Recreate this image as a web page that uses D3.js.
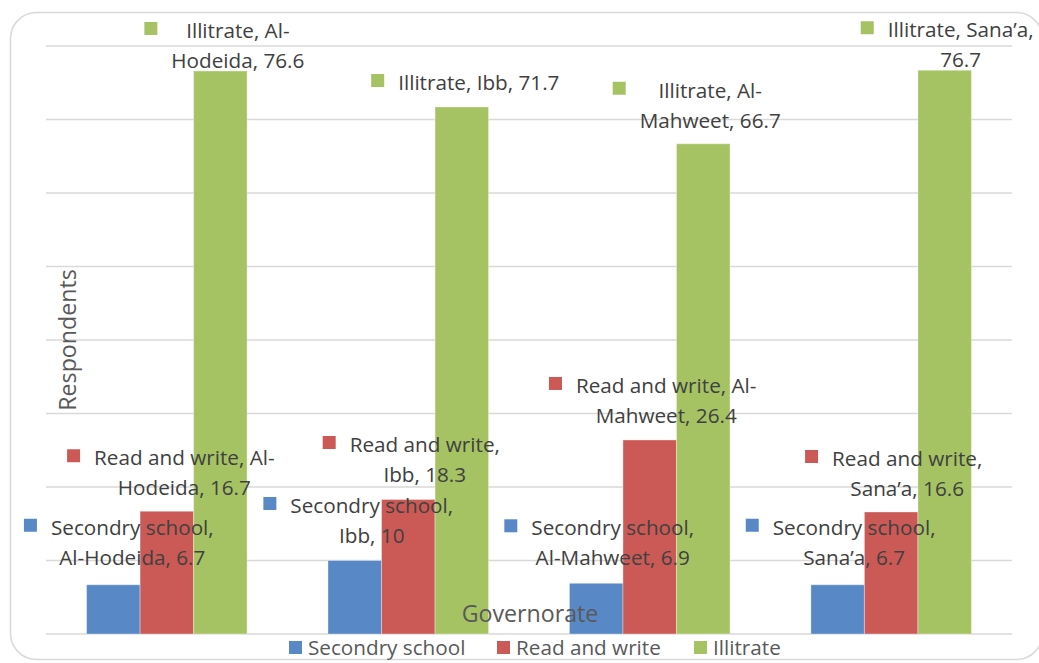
<!DOCTYPE html>
<html>
<meta charset="utf-8">
<style>
  body {
    margin: 0;
    background: #fff;
  }
  text {
    font-family: 'Open Sans', Lato, sans-serif;
  }
  .grid line {
    stroke: #d9d9d9;
    stroke-width: 1.5;
  }
  .lbl {
    fill: #404040;
    font-size: 20.7px;
  }
  .axis-title {
    fill: #595959;
    font-size: 23.2px;
  }
  .legend text {
    fill: #595959;
    font-size: 20.7px;
  }
</style>
<body>
<script src="https://cdn.jsdelivr.net/npm/d3@7"></script>
<script>

// data
var governorates = ['Al-Hodeida', 'Ibb', 'Al-Mahweet', 'Sana\u2019a'];
var seriesNames = ['Secondry school', 'Read and write', 'Illitrate'];
var secondrySchool = [6.7, 10, 6.9, 6.7];
var readAndWrite = [16.7, 18.3, 26.4, 16.6];
var illitrate = [76.6, 71.7, 66.7, 76.7];
var yTicks = [0, 10, 20, 30, 40, 50, 60, 70, 80];

var colors = ['#5889c6', '#cb5a56', '#a6c364'];

// label layout (how many words go on the first line, offset from bar top)
var labelBreaks = [[2, 2, 2, 2], [4, 3, 4, 3], [2, 99, 2, 2]];
var labelOffsets = [
  [[19, -50], [17, -47.5], [16.5, -48], [16.5, -50]],
  [[17.5, -46], [16.5, -47.5], [16.5, -47], [16, -46]],
  [[17.5, -33], [17, -17], [7, -46], [16, -33]]
];

var values = [secondrySchool, readAndWrite, illitrate];

var width = 1039, height = 663;
var margin = {top: 46, right: 27, bottom: 29, left: 46};

var svg = d3.select('body').append('svg')
  .attr('width', width)
  .attr('height', height);

// frame
svg.append('rect')
  .attr('x', 10.5).attr('y', 12.5)
  .attr('width', 1032).attr('height', 647)
  .attr('rx', 26)
  .attr('fill', 'none')
  .attr('stroke', '#d9d9d9')
  .attr('stroke-width', 1.5);

var x0 = d3.scaleBand()
  .domain(governorates)
  .range([margin.left, width - margin.right])
  .paddingInner(0.335)
  .paddingOuter(0.168);

var x1 = d3.scaleBand()
  .domain(seriesNames)
  .range([0, x0.bandwidth()]);

var y = d3.scaleLinear()
  .domain([0, 80])
  .range([height - margin.bottom, margin.top]);

svg.append('g')
  .attr('class', 'grid')
  .selectAll('line')
  .data(yTicks)
  .enter()
  .append('line')
  .attr('x1', margin.left)
  .attr('x2', width - margin.right)
  .attr('y1', function(d) { return y(d); })
  .attr('y2', function(d) { return y(d); });

// bars
var bars = [];
seriesNames.forEach(function(s, si) {
  governorates.forEach(function(g, gi) {
    bars.push({s: s, si: si, g: g, gi: gi, v: values[si][gi]});
  });
});

svg.append('g')
  .selectAll('rect')
  .data(bars)
  .enter()
  .append('rect')
  .attr('x', function(d) { return x0(d.g) + x1(d.s); })
  .attr('y', function(d) { return y(d.v); })
  .attr('width', x1.bandwidth())
  .attr('height', function(d) { return y(0) - y(d.v); })
  .attr('fill', function(d) { return colors[d.si]; })
  .attr('stroke', 'rgba(255,255,255,0.35)')
  .attr('stroke-width', 1);

// axis titles
svg.append('text')
  .attr('class', 'axis-title')
  .attr('transform', 'translate(76,340) rotate(-90)')
  .attr('text-anchor', 'middle')
  .text('Respondents');

svg.append('text')
  .attr('class', 'axis-title')
  .attr('x', 530)
  .attr('y', 622)
  .attr('text-anchor', 'middle')
  .text('Governorate');

// data labels with legend key
var lineH = 30;
bars.forEach(function(d) {
  var full = d.s + ', ' + d.g + ', ' + d.v;
  var tokens = full.split(/(?<=\s)|(?<=-)(?=[A-Z])/);
  var n = labelBreaks[d.si][d.gi];
  var lines = [tokens.slice(0, n).join('').trim()];
  if (n < tokens.length) lines.push(tokens.slice(n).join('').trim());
  var off = labelOffsets[d.si][d.gi];
  var cx = x0(d.g) + x1(d.s) + x1.bandwidth() / 2 + off[0];
  var by = y(d.v) + off[1];

  var g = svg.append('g').attr('class', 'lbl');
  var maxW = 0;
  lines.forEach(function(t, i) {
    var el = g.append('text')
      .attr('x', cx)
      .attr('y', by + i * lineH)
      .attr('text-anchor', 'middle')
      .text(t);
    maxW = Math.max(maxW, el.node().getComputedTextLength());
  });
  g.append('rect')
    .attr('x', cx - maxW / 2 - 27)
    .attr('y', by - 16)
    .attr('width', 13)
    .attr('height', 13)
    .attr('fill', colors[d.si]);
});

// legend
var legendX = [289, 497, 694];
var legend = svg.append('g')
  .attr('class', 'legend')
  .selectAll('g')
  .data(seriesNames)
  .enter()
  .append('g')
  .attr('transform', function(d, i) { return 'translate(' + legendX[i] + ',641)'; });

legend.append('rect')
  .attr('width', 13)
  .attr('height', 13)
  .attr('fill', function(d, i) { return colors[i]; });

legend.append('text')
  .attr('x', 19)
  .attr('y', 13)
  .attr('dy', 1)
  .text(function(d) { return d; });

</script>
</body>
</html>
